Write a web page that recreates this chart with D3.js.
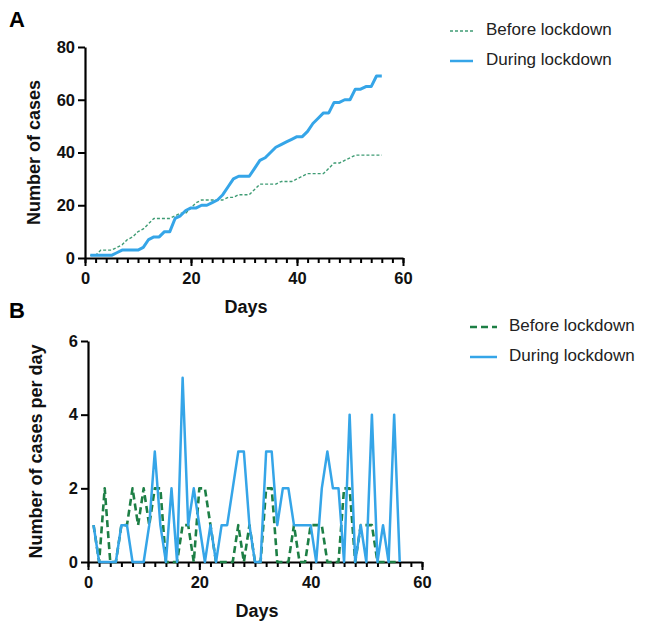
<!DOCTYPE html>
<html>
<head>
<meta charset="utf-8">
<script src="https://cdn.jsdelivr.net/npm/d3@7"></script>
<style>
  html, body { margin: 0; padding: 0; background: #fff; }
  svg { display: block; }
  text { font-family: "Liberation Sans", Arial, Helvetica, sans-serif; }
</style>
</head>
<body>
<svg id="chart" width="645" height="628"></svg>
<script>
// ---------- data ----------
const days = d3.range(1, 57);
const seriesNames = ["Before lockdown", "During lockdown"];

// Panel A: cumulative number of cases
const cumulativeBefore = [1,1,3,3,3,4,5,7,8,10,11,13,15,15,15,15,16,17,17,19,21,22,22,22,22,22,23,23,24,24,24,26,28,28,28,28,29,29,29,30,31,32,32,32,32,34,36,36,37,38,39,39,39,39,39,39];
const cumulativeDuring = [1,1,1,1,1,2,3,3,3,3,4,7,8,8,10,10,15,16,18,19,19,20,20,21,22,24,27,30,31,31,31,34,37,38,40,42,43,44,45,46,46,48,51,53,55,55,59,59,60,60,64,64,65,65,69,69];

// Panel B: number of cases per day
const dailyBefore = [1,0,2,0,0,1,1,2,1,2,1,2,2,0,0,0,1,1,0,2,2,1,0,0,0,0,1,0,1,0,0,2,2,0,0,0,1,0,0,1,1,1,0,0,0,2,2,0,1,1,1,0,0,0,0,0];
const dailyDuring = [1,0,0,0,0,1,1,0,0,0,1,3,1,0,2,0,5,1,2,1,0,1,0,1,1,2,3,3,1,0,0,3,3,1,2,2,1,1,1,1,0,2,3,2,2,0,4,0,1,0,4,0,1,0,4,0];

const xTicks = [0, 20, 40, 60];
const xMinorTicks = d3.range(0, 61, 2);
const yTicksA = [0, 20, 40, 60, 80];
const yTicksB = [0, 2, 4, 6];

// ---------- drawing ----------
const svg = d3.select("#chart");
const BLUE = "#35a5e8";
const GREEN_A = "#3f9c74";
const GREEN_B = "#1d7f45";
const fmt = d3.format("d");

function panel(opts) {
  const g = svg.append("g");
  const x = d3.scaleLinear().domain([0, 60]).range([opts.x0, opts.x1]);
  const y = d3.scaleLinear().domain([0, opts.ymax]).range([opts.y0, opts.y1]);

  // minor x ticks
  g.append("g")
    .attr("transform", `translate(0,${opts.y0})`)
    .call(d3.axisBottom(x).tickValues(xMinorTicks).tickSize(5).tickFormat("").tickSizeOuter(0))
    .call(s => s.select(".domain").remove())
    .call(s => s.selectAll("line").attr("stroke", "#000").attr("stroke-width", 2));

  // major x ticks
  g.append("g")
    .attr("transform", `translate(0,${opts.y0})`)
    .call(d3.axisBottom(x).tickValues(xTicks).tickFormat(fmt).tickSize(8).tickPadding(6).tickSizeOuter(0))
    .call(s => s.select(".domain").attr("stroke", "#000").attr("stroke-width", 2.2))
    .call(s => s.selectAll("line").attr("stroke", "#000").attr("stroke-width", 2))
    .call(s => s.selectAll("text").attr("font-size", 16.5).attr("font-weight", "bold").attr("fill", "#111")
      .attr("font-family", '"Liberation Sans", Arial, sans-serif'));

  // y axis
  g.append("g")
    .attr("transform", `translate(${opts.x0},0)`)
    .call(d3.axisLeft(y).tickValues(opts.yTicks).tickFormat(fmt).tickSize(7).tickPadding(3).tickSizeOuter(0))
    .call(s => s.select(".domain").attr("stroke", "#000").attr("stroke-width", 2.2))
    .call(s => s.selectAll("line").attr("stroke", "#000").attr("stroke-width", 2))
    .call(s => s.selectAll("text").attr("font-size", 16.5).attr("font-weight", "bold").attr("fill", "#111")
      .attr("font-family", '"Liberation Sans", Arial, sans-serif'));

  // axis titles
  g.append("text")
    .attr("x", (opts.x0 + opts.x1) / 2 + 2)
    .attr("y", opts.y0 + 55)
    .attr("text-anchor", "middle")
    .attr("font-size", 18).attr("font-weight", "bold").attr("fill", "#111")
    .text("Days");
  g.append("text")
    .attr("transform", `translate(${opts.ytitleX},${(opts.y0 + opts.y1) / 2}) rotate(-90)`)
    .attr("text-anchor", "middle")
    .attr("dominant-baseline", "middle")
    .attr("font-size", 18).attr("font-weight", "bold").attr("fill", "#111")
    .text(opts.ytitle);

  // panel letter
  g.append("text")
    .attr("x", opts.letterX).attr("y", opts.letterY)
    .attr("font-size", 22).attr("font-weight", "bold").attr("fill", "#000")
    .text(opts.letter);

  const line = d3.line().x((d, i) => x(days[i])).y(d => y(d));

  g.append("path")
    .datum(opts.before)
    .attr("fill", "none")
    .attr("stroke", opts.greenColor)
    .attr("stroke-width", opts.greenWidth)
    .attr("stroke-dasharray", opts.greenDash)
    .attr("stroke-linejoin", "round")
    .attr("d", line);

  g.append("path")
    .datum(opts.during)
    .attr("fill", "none")
    .attr("stroke", BLUE)
    .attr("stroke-width", opts.blueWidth)
    .attr("stroke-linejoin", "round")
    .attr("d", line);

  // legend
  const lg = g.append("g");
  const rows = [
    { name: seriesNames[0], color: opts.greenColor, width: opts.greenWidth, dash: opts.greenDash },
    { name: seriesNames[1], color: BLUE, width: opts.legendBlueWidth, dash: null }
  ];
  rows.forEach((r, i) => {
    const ly = opts.legY + i * 30;
    lg.append("line")
      .attr("x1", opts.legX).attr("x2", opts.legX + opts.legLen)
      .attr("y1", ly).attr("y2", ly)
      .attr("stroke", r.color).attr("stroke-width", r.width)
      .attr("stroke-dasharray", r.dash);
    lg.append("text")
      .attr("x", opts.legTextX).attr("y", ly)
      .attr("dominant-baseline", "middle")
      .attr("font-size", 17).attr("fill", "#222")
      .text(r.name);
  });
}

panel({
  letter: "A", letterX: 9, letterY: 27,
  x0: 85, x1: 403, y0: 258, y1: 47, ymax: 80, yTicks: yTicksA,
  ytitle: "Number of cases", ytitleX: 35,
  before: cumulativeBefore, during: cumulativeDuring,
  greenColor: GREEN_A, greenWidth: 1.4, greenDash: "3,2",
  blueWidth: 3, legendBlueWidth: 2.5,
  legX: 450, legLen: 23, legTextX: 486, legY: 31
});

panel({
  letter: "B", letterX: 9, letterY: 318,
  x0: 88, x1: 422, y0: 562, y1: 341, ymax: 6, yTicks: yTicksB,
  ytitle: "Number of cases per day", ytitleX: 37,
  before: dailyBefore, during: dailyDuring,
  greenColor: GREEN_B, greenWidth: 2.6, greenDash: "7,4",
  blueWidth: 2.5, legendBlueWidth: 2.5,
  legX: 470, legLen: 27, legTextX: 509, legY: 327
});
</script>
</body>
</html>
